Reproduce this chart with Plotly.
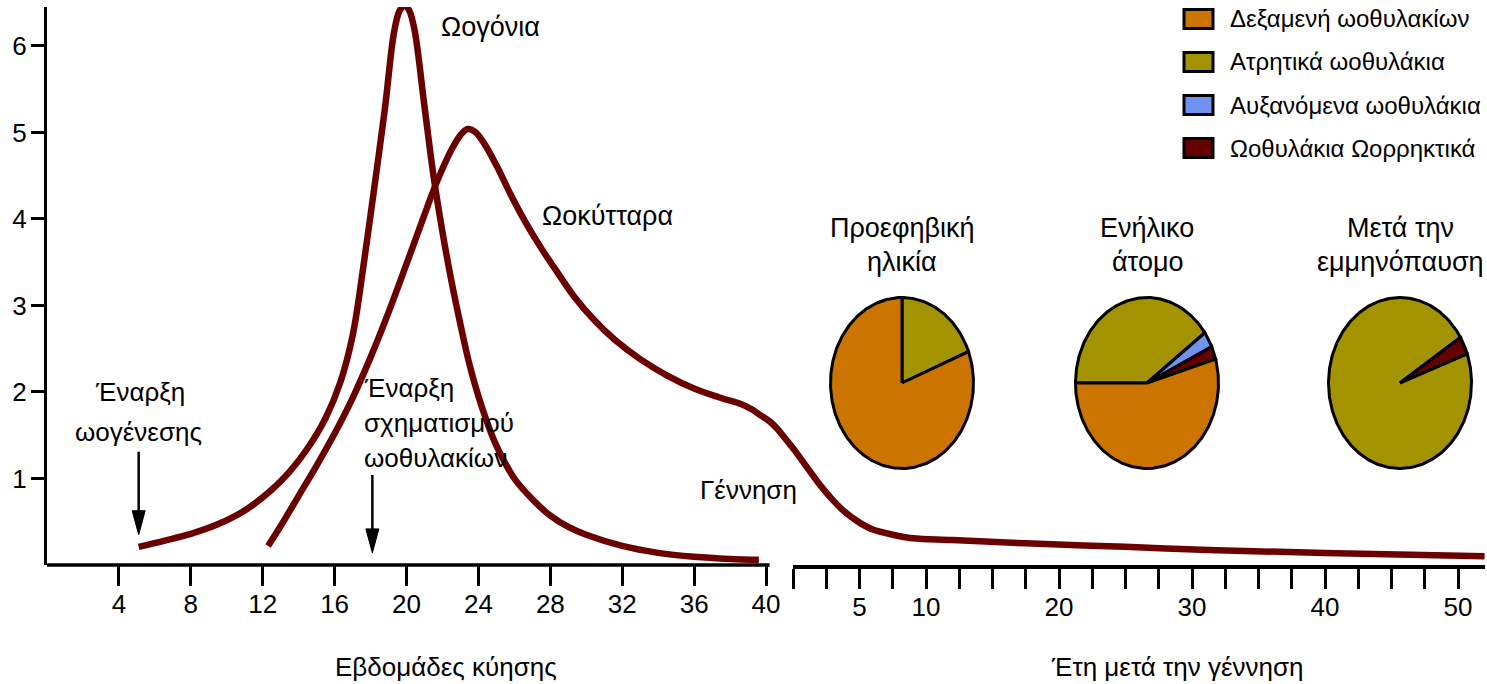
import numpy as np
import plotly.graph_objects as go

# ---------------- data ----------------
# Oogonia (prenatal, weeks of gestation)
oogonia_weeks = [5.1, 6.5, 8, 9.5, 11, 12.5, 13.5, 14.5, 15.5, 16.3, 17.0, 17.6, 18.2, 18.8, 19.3, 19.6,
                 19.88, 20.15, 20.45, 21.0, 21.5, 22.0, 22.5, 23.0, 23.5, 24.0, 24.5, 25.0, 26.0, 27.0,
                 28.0, 29.0, 30.0, 32.0, 34.0, 36.0, 38.0, 39.6]
oogonia_vals = [0.21, 0.28, 0.36, 0.47, 0.63, 0.87, 1.08, 1.35, 1.70, 2.10, 2.65, 3.45, 4.35, 5.28, 6.15, 6.40,
                6.47, 6.41, 6.18, 5.3, 4.5, 3.85, 3.28, 2.78, 2.32, 1.95, 1.64, 1.38, 1.0, 0.76,
                0.57, 0.44, 0.35, 0.22, 0.14, 0.095, 0.07, 0.06]

# Oocytes (prenatal part, weeks)
oocyte_weeks = [12.3, 13.0, 14.0, 15.0, 16.0, 17.0, 18.0, 19.0, 20.0, 21.0, 21.5, 22.0, 22.5, 23.0, 23.4,
                23.8, 24.3, 25.0, 25.8, 26.6, 27.5, 28.4, 29.3, 30.4, 31.6, 33.0, 34.5, 36.0, 37.5,
                38.6, 39.2, 39.7, 40.2, 40.6, 41.0, 41.5, 42.2]
oocyte_vals = [0.22, 0.45, 0.80, 1.15, 1.52, 1.93, 2.40, 2.92, 3.48, 4.05, 4.33, 4.58, 4.80, 4.97, 5.04,
               5.01, 4.88, 4.62, 4.28, 3.97, 3.66, 3.38, 3.11, 2.84, 2.60, 2.38, 2.19, 2.04, 1.93,
               1.86, 1.80, 1.73, 1.66, 1.58, 1.48, 1.35, 1.18]

# Oocytes (postnatal part, years after birth)
oocyte_years = [-1.0, 0.0, 1.0, 2.0, 3.0, 4.0, 5.0, 6.0, 7.5, 9.0, 12.0, 17.5, 25.0, 31.8, 40.0, 52.0]
oocyte_year_vals = [1.54, 1.35, 1.14, 0.93, 0.75, 0.60, 0.49, 0.41, 0.35, 0.31, 0.29, 0.25, 0.21, 0.17, 0.14, 0.10]

week_ticks = [4, 8, 12, 16, 20, 24, 28, 32, 36, 40]
year_ticks = [i * 2.5 for i in range(21)]
year_labels = ["5", "10", "20", "30", "40", "50"]
y_ticks = [1, 2, 3, 4, 5, 6]

# pies
categories = ["Δεξαμενή ωοθυλακίων", "Ατρητικά ωοθυλάκια", "Αυξανόμενα ωοθυλάκια", "Ωοθυλάκια Ωορρηκτικά"]
stages = ["Προεφηβική<br>ηλικία", "Ενήλικο<br>άτομο", "Μετά την<br>εμμηνόπαυση"]
prepubertal = [81, 19, 0, 0]
adult = [54.5, 40, 3, 2.5]
postmenopause = [0, 96.6, 0, 3.4]
pie_values = [prepubertal, adult, postmenopause]

events = ["Έναρξη<br>ωογένεσης", "Έναρξη<br>σχηματισμού<br>ωοθυλακίων"]
event_weeks = [5.1, 18.1]
event_tips = [0.35, 0.14]

# ---------------- style ----------------
W, H = 1487, 684
ML, MR, MT, MB = 47, 2, 7, 119
PW, PH = W - ML - MR, H - MT - MB
CURVE = "#6A0000"
COLORS = ["#CC7400", "#A39300", "#6F93EE", "#640000"]
FONT = "Liberation Sans, Arial, sans-serif"
FS = 26


def px(x):
    return (x - ML) / PW


def py(y):
    return (H - MB - y) / PH


fig = go.Figure()
line_style = dict(color=CURVE, width=6.5, shape="spline", smoothing=1.0)
fig.add_trace(go.Scatter(x=oogonia_weeks, y=oogonia_vals, mode="lines", line=line_style,
                         xaxis="x", yaxis="y", showlegend=False, hoverinfo="skip"))
fig.add_trace(go.Scatter(x=oocyte_weeks, y=oocyte_vals, mode="lines", line=line_style,
                         xaxis="x", yaxis="y", showlegend=False, hoverinfo="skip"))
fig.add_trace(go.Scatter(x=oocyte_years, y=oocyte_year_vals, mode="lines", line=line_style,
                         xaxis="x2", yaxis="y", showlegend=False, hoverinfo="skip"))

# pies as ellipses (each drawn in its own axes)
pie_centers = [902, 1147, 1400]
pie_rot = [0, -90, 70]
order = [1, 2, 3, 0]
RX, RY = 71.5, 85.5
PAD = 1.05
layout_axes = {}
for i, vals in enumerate(pie_values):
    ax_id = 3 + i
    total = sum(vals)
    a = pie_rot[i]
    for k in order:
        v = vals[k]
        if v <= 0:
            continue
        span = 360 * v / total
        t = np.radians(np.linspace(a, a + span, max(4, int(span))))
        xs = np.concatenate([[0], np.sin(t), [0]])
        ys = np.concatenate([[0], np.cos(t), [0]])
        fig.add_trace(go.Scatter(x=xs, y=ys, mode="lines", fill="toself", fillcolor=COLORS[k],
                                 line=dict(color="black", width=3), xaxis=f"x{ax_id}",
                                 yaxis=f"y{ax_id}", showlegend=False, hoverinfo="skip"))
        a += span
    cx = pie_centers[i]
    cy = 383
    layout_axes[f"xaxis{ax_id}"] = dict(domain=[px(cx - RX * PAD), px(cx + RX * PAD)], range=[-PAD, PAD],
                                        visible=False, anchor=f"y{ax_id}")
    layout_axes[f"yaxis{ax_id}"] = dict(domain=[py(cy + RY * PAD), py(cy - RY * PAD)], range=[-PAD, PAD],
                                        visible=False, anchor=f"x{ax_id}")

annotations = []


def txt(text, x, y, anchor="center", size=FS):
    annotations.append(dict(text=text, x=px(x), y=py(y), xref="paper", yref="paper",
                            xanchor=anchor, yanchor="middle", showarrow=False,
                            font=dict(family=FONT, size=size, color="black")))


# curve labels
txt("Ωογόνια", 490, 27, size=27)
txt("Ωοκύτταρα", 607, 216, size=27)
txt("Γέννηση", 748, 490, size=26)
# event labels
l1, l2 = events[0].split("<br>")
txt(l1, 140, 392)
txt(l2, 138, 432)
for j, line in enumerate(events[1].split("<br>")):
    txt(line, 362, 388 + 35 * j, "left")
# pie titles
for i, s in enumerate(stages):
    a1, a2 = s.split("<br>")
    txt(a1, pie_centers[i], 228, size=27)
    txt(a2, pie_centers[i], 262, size=27)
# axis titles
txt("Εβδομάδες κύησης", 446, 667)
txt("Έτη μετά την γέννηση", 1177, 667)

shapes = []
# arrows: shaft + long narrow head (pixel-sized, anchored to data point)
arrow_len = [83, 78]
for w, tip, L in zip(event_weeks, event_tips, arrow_len):
    shapes.append(dict(type="line", xref="x", yref="y", xsizemode="pixel", ysizemode="pixel",
                       xanchor=w, yanchor=tip, x0=0, x1=0, y0=20, y1=L,
                       line=dict(color="black", width=2.5)))
    shapes.append(dict(type="path", xref="x", yref="y", xsizemode="pixel", ysizemode="pixel",
                       xanchor=w, yanchor=tip, path="M0,0 L-6.5,24 L6.5,24 Z",
                       fillcolor="black", line=dict(color="black", width=1)))

# legend (manual)
leg_y = [19, 62, 105, 148]
for k, (cat, col) in enumerate(zip(categories, COLORS)):
    c = leg_y[k]
    shapes.append(dict(type="rect", xref="paper", yref="paper", x0=px(1184), x1=px(1213),
                       y0=py(c + 9.5), y1=py(c - 9.5), fillcolor=col, line=dict(color="black", width=3)))
    txt(cat, 1228, c, "left", 24)

# left x axis line (break before birth)
shapes.append(dict(type="line", xref="x", yref="paper", x0=0, x1=40.2, y0=0, y1=0,
                   line=dict(color="black", width=3.5)))

fig.update_layout(
    width=W, height=H,
    margin=dict(l=ML, r=MR, t=MT, b=MB, pad=0),
    paper_bgcolor="white", plot_bgcolor="white",
    font=dict(family=FONT, size=FS, color="black"),
    xaxis=dict(domain=[0, px(793)], range=[0, 41.5], anchor="y", showgrid=False, zeroline=False,
               showline=False, tickmode="array", tickvals=week_ticks, ticks="outside", ticklen=20,
               tickwidth=3, tickcolor="black", tickfont=dict(size=FS), ticklabelstandoff=-4),
    xaxis2=dict(domain=[px(793), 1], range=[0, 52.03], anchor="y", showgrid=False, zeroline=False,
                showline=True, linecolor="black", linewidth=3.5, tickmode="array", tickvals=year_ticks,
                ticktext=[str(int(v)) if (v == int(v) and str(int(v)) in year_labels) else "" for v in year_ticks],
                ticks="outside", ticklen=20, tickwidth=3, tickcolor="black", tickfont=dict(size=FS),
                ticklabelstandoff=-4),
    yaxis=dict(domain=[0, 1], range=[0, 6.45], anchor="x", showgrid=False, zeroline=False,
               showline=True, linecolor="black", linewidth=3, tickmode="array", tickvals=y_ticks,
               ticks="outside", ticklen=13, tickwidth=3, tickcolor="black", tickfont=dict(size=FS),
               ticklabelstandoff=-1),
    annotations=annotations,
    shapes=shapes,
    showlegend=False,
    **layout_axes,
)

fig.write_html("out.html", config={"displayModeBar": False},
               post_script="document.body.style.margin='0px';")
